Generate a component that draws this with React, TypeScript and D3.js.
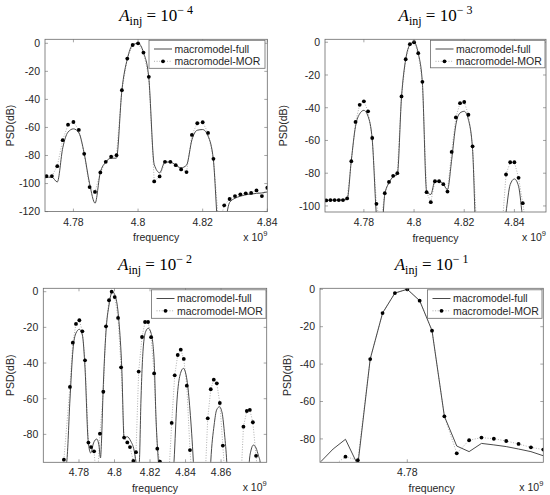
import React from 'react';
import * as d3 from 'd3';

// ---------- Panel 1 : A_inj = 1e-4 ----------
const P1_MOR_FREQ = [4.77167, 4.77333, 4.775, 4.77667, 4.77833, 4.78, 4.78167, 4.78333, 4.785, 4.78667, 4.78833, 4.79, 4.79167, 4.79333, 4.795, 4.79667, 4.79833, 4.8, 4.80167, 4.80333, 4.805, 4.80667, 4.80833, 4.81, 4.81167, 4.81333, 4.815, 4.81667, 4.81833, 4.82, 4.82167, 4.82333, 4.825, 4.82667, 4.82833, 4.83, 4.83167, 4.83333, 4.835, 4.83667, 4.83833, 4.84];
const P1_MOR_PSD = [-94.7, -94.7, -87.6, -69.1, -58.0, -56.1, -61.8, -78.8, -102.5, -106.0, -92.1, -84.5, -80.9, -79.8, -33.4, -10.9, -1.2, 0, -6.6, -23.9, -98.5, -94.9, -84.5, -84.5, -86.9, -89.9, -91.8, -65.3, -57.0, -56.3, -63.9, -82.4, -130, -115.5, -111.0, -108.9, -107.7, -107.0, -106.7, -104.9, -108.9, -103.0];
const P1_FULL_FREQ = [4.7712, 4.7733, 4.775, 4.7767, 4.7783, 4.78, 4.7817, 4.7833, 4.785, 4.7867, 4.7883, 4.79, 4.7917, 4.7933, 4.795, 4.7967, 4.7983, 4.8, 4.8017, 4.8033, 4.805, 4.8067, 4.8083, 4.81, 4.8117, 4.8133, 4.815, 4.8167, 4.8183, 4.82, 4.8217, 4.8233, 4.825, 4.8267, 4.8283, 4.83, 4.8317, 4.8333, 4.835, 4.8367, 4.8383, 4.84];
const P1_FULL_PSD = [-95.9, -95.4, -98.9, -74.5, -63.4, -61, -63.9, -78.1, -100, -114, -92.3, -84.7, -81.9, -81.9, -33.4, -10.9, -1.2, 0, -6.6, -23.9, -86.4, -92.3, -84.7, -84.7, -86.9, -88.8, -86.9, -68.6, -62, -61.5, -66.3, -82.8, -135, -130, -113.6, -110.5, -109, -108, -107.5, -107, -106.7, -106];
const P1_X_TICKS = [4.78, 4.8, 4.82, 4.84];
const P1_Y_TICKS = [0, -20, -40, -60, -80, -100, -120];

// ---------- Panel 2 : A_inj = 1e-3 ----------
const P2_MOR_FREQ = [4.765, 4.76667, 4.76833, 4.77, 4.77167, 4.77333, 4.775, 4.77667, 4.77833, 4.78, 4.78167, 4.78333, 4.785, 4.78667, 4.78833, 4.79, 4.79167, 4.79333, 4.795, 4.79667, 4.79833, 4.8, 4.80167, 4.80333, 4.805, 4.80667, 4.80833, 4.81, 4.81167, 4.81333, 4.815, 4.81667, 4.81833, 4.82, 4.82167, 4.82333, 4.825, 4.82667, 4.82833, 4.83, 4.83167, 4.83333, 4.835, 4.83667, 4.83833, 4.84, 4.84167, 4.84333, 4.845, 4.84667, 4.84833, 4.85, 4.85167, 4.85333];
const P2_MOR_PSD = [-96.6, -96.4, -96.4, -96.4, -96.4, -95.4, -72.7, -48.7, -38.2, -36.1, -42.2, -58.5, -98.7, -112, -92.2, -85.3, -81.6, -80.0, -33.1, -10.4, -1.2, 0, -6.7, -24.2, -91.6, -97.7, -84.9, -84.9, -86.7, -91.2, -67.0, -45.9, -37.2, -36.5, -44.3, -63.6, -115, -120, -120, -120, -120, -120, -115, -80.8, -73.3, -73.3, -82.8, -98.3, -115, -120, -120, -120, -120, -120];
const P2_FULL_FREQ = [4.765, 4.76667, 4.76833, 4.77, 4.77167, 4.77333, 4.775, 4.77667, 4.77833, 4.78, 4.78167, 4.78333, 4.785, 4.78667, 4.78833, 4.79, 4.79167, 4.79333, 4.795, 4.79667, 4.79833, 4.8, 4.80167, 4.80333, 4.805, 4.80667, 4.80833, 4.81, 4.81167, 4.81333, 4.815, 4.81667, 4.81833, 4.82, 4.82167, 4.82333, 4.825, 4.835, 4.83667, 4.83833, 4.84, 4.84167, 4.84333, 4.845, 4.8533];
const P2_FULL_PSD = [-96.6, -96.5, -96.5, -96.5, -96.4, -96, -72, -51.4, -43.7, -41.6, -45.3, -59.5, -106, -125, -93, -85.9, -82.2, -80.8, -33.5, -10.4, -1.6, 0, -6.7, -25, -91, -93, -84.9, -84.9, -86.7, -90, -71.7, -50.4, -43.2, -42.2, -47.3, -65.6, -125, -125, -104, -86.9, -83.5, -88, -108, -125, -125];
const P2_X_TICKS = [4.78, 4.8, 4.82, 4.84];
const P2_Y_TICKS = [0, -20, -40, -60, -80, -100];

// ---------- Panel 3 : A_inj = 1e-2 ----------
const P3_MOR_FREQ = [4.7599, 4.7681, 4.7698, 4.7715, 4.7749, 4.7765, 4.7783, 4.7802, 4.7819, 4.7834, 4.7853, 4.7868, 4.7885, 4.7901, 4.7918, 4.7937, 4.7952, 4.7969, 4.7984, 4.8001, 4.802, 4.8037, 4.8054, 4.8072, 4.8087, 4.8106, 4.8121, 4.8136, 4.8155, 4.8172, 4.8189, 4.8206, 4.8223, 4.8241, 4.8256, 4.8272, 4.8289, 4.8305, 4.8322, 4.8339, 4.8356, 4.8373, 4.839, 4.8407, 4.8425, 4.8441, 4.8458, 4.8475, 4.8491, 4.8508, 4.8525, 4.8542, 4.8559, 4.8576, 4.8593, 4.861, 4.8626, 4.8643, 4.866, 4.8676, 4.8693, 4.871, 4.8726, 4.8745, 4.8762, 4.8779, 4.8797, 4.8814, 4.8831, 4.8857];
const P3_MOR_PSD = [-120, -115, -110, -94.2, -53.4, -28.6, -18.1, -16.0, -22.2, -38.5, -84.6, -87.1, -89.5, -110, -79.6, -56.1, -19.4, -4.8, 0, -3.0, -14.7, -42.4, -81.8, -84.5, -87.1, -94.9, -90.0, -44.8, -25.4, -17.0, -17.0, -25.5, -45.8, -88.0, -95.3, -95.9, -110, -105, -73.6, -46.9, -35.5, -32.5, -37.7, -52.7, -88.8, -110, -115, -115, -115, -110, -71.0, -54.7, -49.3, -51.4, -62.4, -86.3, -110, -115, -115, -115, -115, -110, -75.7, -66.9, -66.3, -73.2, -92.0, -110, -115, -115];
const P3_FULL_FREQ = [4.7599, 4.7704, 4.7731, 4.7749, 4.7766, 4.7783, 4.7802, 4.7819, 4.7834, 4.7852, 4.7866, 4.7882, 4.79, 4.7913, 4.7921, 4.7927, 4.7935, 4.7952, 4.7969, 4.7988, 4.8008, 4.8025, 4.8041, 4.8054, 4.8072, 4.8091, 4.811, 4.8121, 4.813, 4.814, 4.8149, 4.8163, 4.8177, 4.819, 4.8206, 4.8223, 4.8234, 4.8247, 4.8252, 4.833, 4.8335, 4.8352, 4.8369, 4.8388, 4.8408, 4.8425, 4.8444, 4.8448, 4.8538, 4.8542, 4.8561, 4.8575, 4.8591, 4.8606, 4.862, 4.8632, 4.8636, 4.8758, 4.8759, 4.8769, 4.8782, 4.8797, 4.8811, 4.882, 4.8826, 4.8857];
const P3_FULL_PSD = [-105, -105, -95.3, -60.7, -32.7, -23.2, -21.1, -24.3, -43, -84.1, -90.4, -84.8, -82.6, -86.5, -93.2, -83.2, -57.9, -22.4, -7.5, 0, -3.7, -16.8, -43, -82.2, -81.3, -83.7, -88.8, -95.5, -103, -95.3, -60.7, -29.9, -22, -20.5, -23.2, -38.3, -71.9, -95.3, -103, -103, -95.3, -60.7, -46.7, -43, -49.5, -66.3, -95.3, -103, -103, -95.3, -74.7, -66.3, -64.5, -68, -80.3, -95.3, -103, -103, -95.3, -88.8, -86, -87.6, -92.1, -95.5, -103, -103];
const P3_X_TICKS = [4.78, 4.8, 4.82, 4.84, 4.86];
const P3_Y_TICKS = [0, -20, -40, -60, -80];

// ---------- Panel 4 : A_inj = 1e-1 ----------
const P4_FREQ = [4.7765, 4.777, 4.7775, 4.778, 4.7785, 4.779, 4.7795, 4.78, 4.7805, 4.781, 4.7815, 4.782, 4.7825, 4.783, 4.7835, 4.784, 4.7845, 4.785, 4.7855];
const P4_MOR_PSD = [-100, -94.5, -89.5, -91.4, -37.3, -12.7, -2.0, 0, -6.1, -22.1, -67.9, -87.7, -80.7, -79.3, -79.9, -81.1, -82.7, -84.5, -85.7];
const P4_FULL_PSD = [-92.2, -85.4, -80.2, -94, -37.3, -12.7, -2.0, 0, -6.1, -22.1, -67.9, -83.8, -86.8, -82.4, -83.2, -84.1, -85.4, -86.8, -89];
const P4_X_TICKS = [4.78];
const P4_Y_TICKS = [0, -20, -40, -60, -80];

const TITLE_EXPONENTS = ['4', '3', '2', '1'];
const LEGEND_LABELS = ['macromodel-full', 'macromodel-MOR'];

const zip = (a: number[], b: number[]): [number, number][] => a.map((v, i) => [v, b[i]]);

type PanelSpec = {
  left: number; right: number; top: number; bottom: number;
  xDomain: [number, number]; yDomain: [number, number];
  xTicks: number[]; yTicks: number[];
  full: [number, number][]; mor: [number, number][];
  smooth: boolean; exp: string;
  legend: { x: number; y: number; w: number; h: number };
  yLabelX: number;
};

const PANELS: PanelSpec[] = [
  {
    left: 45, right: 267.3, top: 39.3, bottom: 211.6,
    xDomain: [4.7712, 4.84], yDomain: [-120, 2.85],
    xTicks: P1_X_TICKS, yTicks: P1_Y_TICKS,
    full: zip(P1_FULL_FREQ, P1_FULL_PSD), mor: zip(P1_MOR_FREQ, P1_MOR_PSD),
    smooth: true, exp: TITLE_EXPONENTS[0],
    legend: { x: 149, y: 40.3, w: 116, h: 28 }, yLabelX: 14,
  },
  {
    left: 325, right: 546, top: 39.3, bottom: 212,
    xDomain: [4.7645, 4.8526], yDomain: [-103.7, 1.8],
    xTicks: P2_X_TICKS, yTicks: P2_Y_TICKS,
    full: zip(P2_FULL_FREQ, P2_FULL_PSD), mor: zip(P2_MOR_FREQ, P2_MOR_PSD),
    smooth: true, exp: TITLE_EXPONENTS[1],
    legend: { x: 430.5, y: 40.3, w: 114.5, h: 27.5 }, yLabelX: 287,
  },
  {
    left: 43.3, right: 266.7, top: 288.3, bottom: 462.3,
    xDomain: [4.7599, 4.8857], yDomain: [-95.65, 1.9],
    xTicks: P3_X_TICKS, yTicks: P3_Y_TICKS,
    full: zip(P3_FULL_FREQ, P3_FULL_PSD), mor: zip(P3_MOR_FREQ, P3_MOR_PSD),
    smooth: true, exp: TITLE_EXPONENTS[2],
    legend: { x: 151.5, y: 289.8, w: 114.5, h: 28.5 }, yLabelX: 14,
  },
  {
    left: 320, right: 543.3, top: 288.3, bottom: 462.3,
    xDomain: [4.77647, 4.7855], yDomain: [-92.5, 0.53],
    xTicks: P4_X_TICKS, yTicks: P4_Y_TICKS,
    full: zip(P4_FREQ, P4_FULL_PSD), mor: zip(P4_FREQ, P4_MOR_PSD),
    smooth: false, exp: TITLE_EXPONENTS[3],
    legend: { x: 427.5, y: 289.8, w: 114.5, h: 28.5 }, yLabelX: 291,
  },
];

const SANS = '"Liberation Sans", Arial, Helvetica, sans-serif';
const SERIF = '"Liberation Serif", "Times New Roman", serif';
const AXIS_COLOR = '#6a6a6a';
const TEXT_COLOR = '#262626';
const FULL_COLOR = '#4a4a4a';
const MOR_LINE_COLOR = '#9a9a9a';

function fmtTick(v: number): string {
  const s = String(Math.round(v * 1000) / 1000);
  return s.replace(/^-/, '-');
}

function Panel({ p, idx }: { p: PanelSpec; idx: number }) {
  const x = d3.scaleLinear().domain(p.xDomain).range([p.left, p.right]);
  const y = d3.scaleLinear().domain(p.yDomain).range([p.bottom, p.top]);
  const curve = p.smooth ? d3.curveMonotoneX : d3.curveLinear;
  const fullPath = d3.line<[number, number]>().x(d => x(d[0])).y(d => y(d[1])).curve(curve)(p.full) || '';
  const morPath = d3.line<[number, number]>().x(d => x(d[0])).y(d => y(d[1]))(p.mor) || '';
  const clipId = `clip-${idx}`;
  const cx = (p.left + p.right) / 2;
  const cy = (p.top + p.bottom) / 2;
  const tickLen = 3;
  const dots = p.mor.filter(d => d[1] >= p.yDomain[0] && d[1] <= p.yDomain[1] && d[0] >= p.xDomain[0] && d[0] <= p.xDomain[1]);
  const lg = p.legend;
  const titleY = p.top - 18.5;
  return (
    <g>
      <defs>
        <clipPath id={clipId}>
          <rect x={p.left} y={p.top} width={p.right - p.left} height={p.bottom - p.top} />
        </clipPath>
      </defs>
      <rect x={p.left} y={p.top} width={p.right - p.left} height={p.bottom - p.top} fill="#fff" />
      <g clipPath={`url(#${clipId})`}>
        <path d={morPath} fill="none" stroke={MOR_LINE_COLOR} strokeWidth={0.8} strokeDasharray="1,1.6" />
        <path d={fullPath} fill="none" stroke={FULL_COLOR} strokeWidth={1} />
        {dots.map((d, i) => (
          <circle key={i} cx={x(d[0])} cy={y(d[1])} r={1.9} fill="#000" />
        ))}
      </g>
      {/* ticks */}
      {p.xTicks.map((t, i) => (
        <g key={'xt' + i}>
          <line x1={x(t)} x2={x(t)} y1={p.bottom} y2={p.bottom - tickLen} stroke={AXIS_COLOR} strokeWidth={0.6} />
          <line x1={x(t)} x2={x(t)} y1={p.top} y2={p.top + tickLen} stroke={AXIS_COLOR} strokeWidth={0.6} />
          <text x={x(t)} y={p.bottom + 14} textAnchor="middle" fontFamily={SANS} fontSize={10.5} fill={TEXT_COLOR}>{fmtTick(t)}</text>
        </g>
      ))}
      {p.yTicks.map((t, i) => (
        <g key={'yt' + i}>
          <line x1={p.left} x2={p.left + tickLen} y1={y(t)} y2={y(t)} stroke={AXIS_COLOR} strokeWidth={0.6} />
          <line x1={p.right} x2={p.right - tickLen} y1={y(t)} y2={y(t)} stroke={AXIS_COLOR} strokeWidth={0.6} />
          <text x={p.left - 5} y={y(t) + 3.8} textAnchor="end" fontFamily={SANS} fontSize={10.5} fill={TEXT_COLOR}>{fmtTick(t)}</text>
        </g>
      ))}
      <rect x={p.left} y={p.top} width={p.right - p.left} height={p.bottom - p.top} fill="none" stroke={AXIS_COLOR} strokeWidth={0.8} />
      {/* axis labels */}
      <text x={cx} y={p.bottom + 29.5} textAnchor="middle" fontFamily={SANS} fontSize={10.5} fill={TEXT_COLOR}>frequency</text>
      <text x={p.right} y={p.bottom + 29} textAnchor="end" fontFamily={SANS} fontSize={10.5} fill={TEXT_COLOR}>
        x 10<tspan dy={-5} fontSize={7.5}>9</tspan>
      </text>
      <text transform={`translate(${p.yLabelX},${cy}) rotate(-90)`} textAnchor="middle" fontFamily={SANS} fontSize={10.5} fill={TEXT_COLOR}>PSD(dB)</text>
      {/* title */}
      <text x={cx} y={titleY} textAnchor="middle" fontFamily={SERIF} fontSize={17} fill="#000">
        <tspan fontStyle="italic">A</tspan>
        <tspan fontSize={12} dy={4}>inj</tspan>
        <tspan dy={-4}>{' = 10'}</tspan>
        <tspan fontSize={12} dy={-7}>{'\u2212 ' + p.exp}</tspan>
      </text>
      {/* legend */}
      <g>
        <rect x={lg.x} y={lg.y} width={lg.w} height={lg.h} fill="#fff" stroke={AXIS_COLOR} strokeWidth={0.8} />
        <line x1={lg.x + 5} x2={lg.x + 23} y1={lg.y + 8.7} y2={lg.y + 8.7} stroke={FULL_COLOR} strokeWidth={1} />
        <text x={lg.x + 25.5} y={lg.y + 12.5} fontFamily={SANS} fontSize={10.5} fill={TEXT_COLOR}>{LEGEND_LABELS[0]}</text>
        <line x1={lg.x + 5} x2={lg.x + 23} y1={lg.y + 21} y2={lg.y + 21} stroke={MOR_LINE_COLOR} strokeWidth={0.8} strokeDasharray="1,1.6" />
        <circle cx={lg.x + 14} cy={lg.y + 21} r={1.9} fill="#000" />
        <text x={lg.x + 25.5} y={lg.y + 24.8} fontFamily={SANS} fontSize={10.5} fill={TEXT_COLOR}>{LEGEND_LABELS[1]}</text>
      </g>
    </g>
  );
}

export default function App() {
  return (
    <svg width={550} height={495} viewBox="0 0 550 495" style={{ position: 'absolute', left: 0, top: 0, background: '#fff' }}>
      <rect x={0} y={0} width={550} height={495} fill="#fff" />
      {PANELS.map((p, i) => <Panel key={i} p={p} idx={i} />)}
    </svg>
  );
}
